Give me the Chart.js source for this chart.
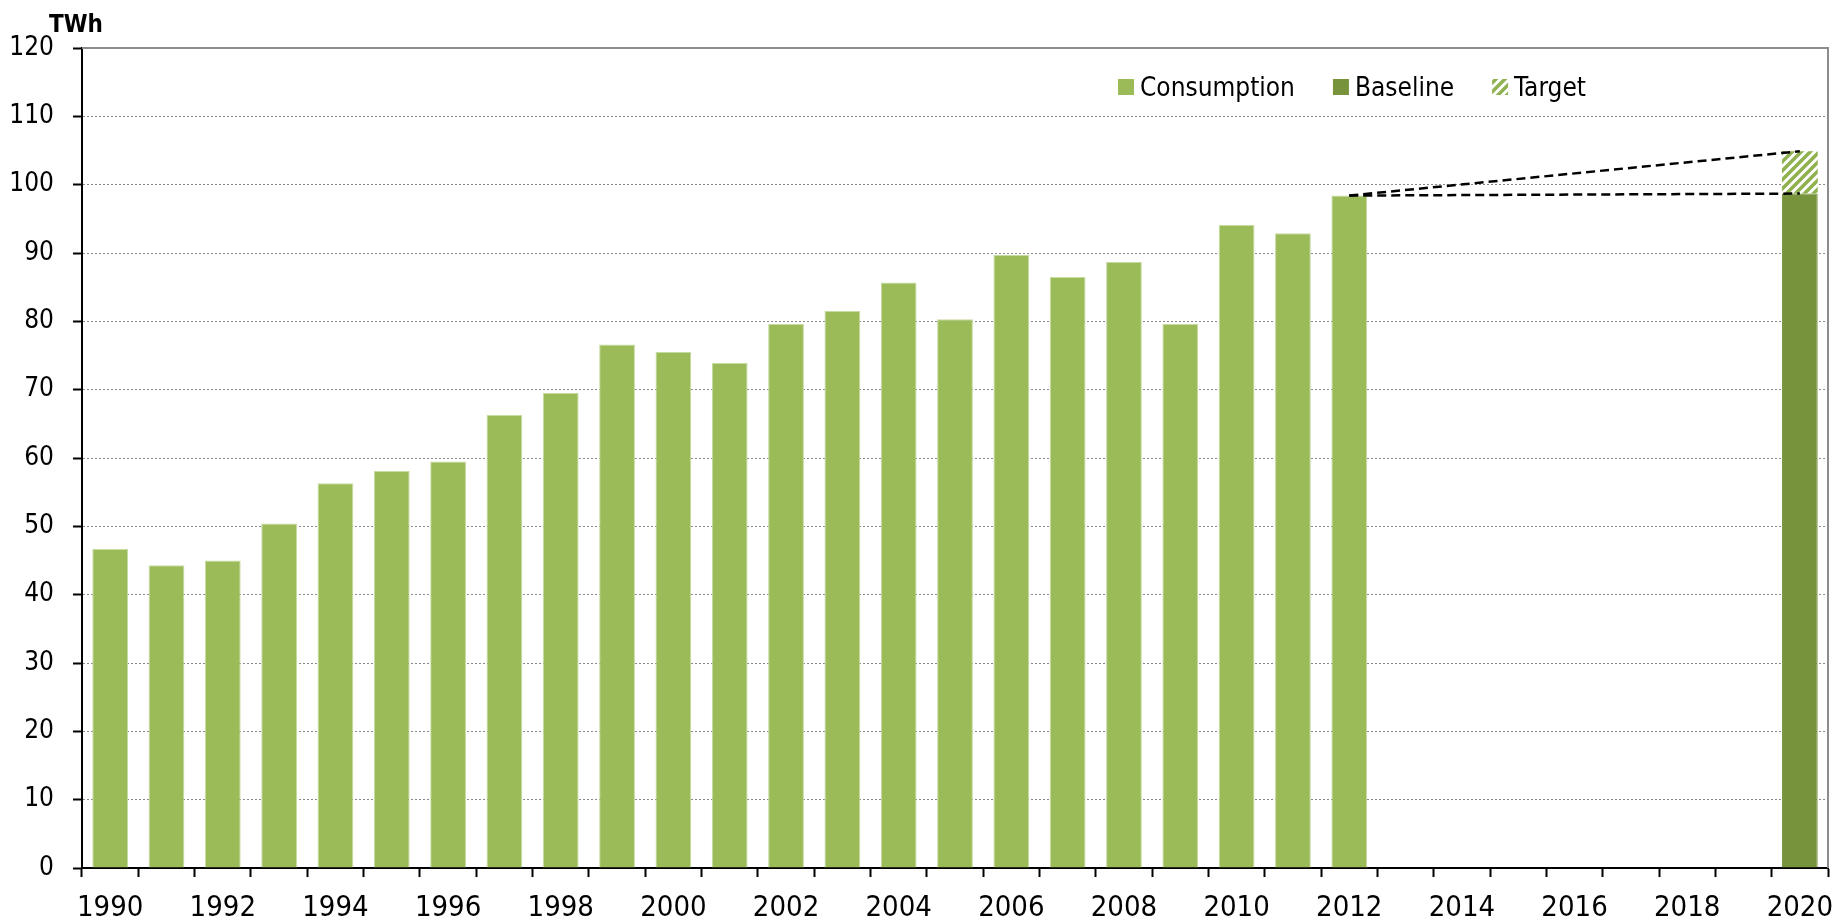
<!DOCTYPE html>
<html>
<head>
<meta charset="utf-8">
<script src="https://cdn.jsdelivr.net/npm/chart.js@4.4.0/dist/chart.umd.min.js"></script>
<style>html,body{margin:0;padding:0;background:#fff}canvas{display:block}</style>
</head>
<body>
<canvas id="chart" width="1833" height="920"></canvas>
<script>
// data
const years=['1990','1991','1992','1993','1994','1995','1996','1997','1998','1999','2000','2001','2002','2003','2004','2005','2006','2007','2008','2009','2010','2011','2012','2013','2014','2015','2016','2017','2018','2019','2020'];
const consumption=[46.7,44.3,45.0,50.4,56.3,58.1,59.5,66.3,69.5,76.6,75.5,73.9,79.6,81.5,85.7,80.3,89.7,86.5,88.7,79.6,94.1,92.9,98.4,null,null,null,null,null,null,null,null];
const baseline2020=98.7;
const target2020=104.9;
const lastYear='2012', goalYear='2020';

const FONT="'DejaVu Sans Condensed','DejaVu Sans',sans-serif";
Chart.defaults.font.family=FONT;
Chart.defaults.font.size=26;
Chart.defaults.color='#000';

const ctx=document.getElementById('chart').getContext('2d');

function hatch(){
  const c=document.createElement('canvas');c.width=c.height=9;
  const g=c.getContext('2d');
  g.fillStyle='#fff';g.fillRect(0,0,9,9);
  g.strokeStyle='#8fb150';g.lineWidth=3.5;
  g.beginPath();
  g.moveTo(-2,11);g.lineTo(11,-2);
  g.moveTo(-7,7);g.lineTo(7,-7);
  g.moveTo(2,16);g.lineTo(16,2);
  g.stroke();
  return ctx.createPattern(c,'repeat');
}

const iLast=years.indexOf(lastYear), iGoal=years.indexOf(goalYear);
const baseline=years.map((y,i)=>i===iGoal?baseline2020:null);
const target=years.map((y,i)=>i===iGoal?[baseline2020,target2020]:null);
const trendUp=years.map((y,i)=>i===iLast?consumption[iLast]:(i===iGoal?target2020:null));
const trendFlat=years.map((y,i)=>i===iLast?consumption[iLast]:(i===iGoal?baseline2020:null));

const barOpts={barPercentage:0.635,categoryPercentage:1,borderWidth:1,borderSkipped:'bottom'};
const lineOpts={type:'line',borderColor:'#000',borderWidth:2.5,borderDash:[9,5],pointRadius:0,spanGaps:true,fill:false,order:-1};

const extras={id:'extras',
  afterDraw(chart){
    const c=chart.ctx, a=chart.chartArea;
    c.save();
    // frame top/right
    c.strokeStyle='#8c8c8c';c.lineWidth=2;
    c.beginPath();c.moveTo(a.left,a.top);c.lineTo(a.right,a.top);c.lineTo(a.right,a.bottom);c.stroke();
    // unit
    c.fillStyle='#000';c.font="bold 24px "+FONT;c.textBaseline='alphabetic';
    c.fillText('TWh',49,32);
    // legend
    c.font="26px "+FONT;
    let x=1118;const y=79;
    chart.data.datasets.filter(d=>d.type!=='line').forEach(d=>{
      c.fillStyle=d.backgroundColor;c.fillRect(x,y,16,16);
      c.fillStyle='#000';c.fillText(d.label,x+22,96);
      x+=22+c.measureText(d.label).width+38;
    });
    c.restore();
  }};

new Chart(ctx,{
  type:'bar',
  data:{labels:years,datasets:[
    {label:'Consumption',data:consumption,backgroundColor:'#9bbb59',borderColor:'#c6dba0',...barOpts},
    {label:'Baseline',data:baseline,backgroundColor:'#77933c',borderColor:'#77933c',...barOpts},
    {label:'Target',data:target,backgroundColor:hatch(),borderColor:'rgba(0,0,0,0)',...barOpts,borderWidth:0},
    {label:'trend up',data:trendUp,...lineOpts},
    {label:'trend flat',data:trendFlat,...lineOpts}
  ]},
  options:{responsive:false,animation:false,
    layout:{padding:{top:48,right:5,left:0,bottom:0}},
    plugins:{legend:{display:false},tooltip:{enabled:false}},
    scales:{
      x:{stacked:true,offset:true,
        grid:{offset:true,drawOnChartArea:false,tickLength:9,tickColor:'#000',tickWidth:2},
        border:{color:'#000',width:2},
        ticks:{autoSkip:false,maxRotation:0,minRotation:0,padding:14,color:'#000',font:{size:29},callback:(v,i)=>i%2===0?years[i]:''},
        afterFit:s=>{s.height=52;s.paddingLeft=0;s.paddingRight=0;}},
      y:{min:0,max:120,
        ticks:{stepSize:10,padding:19,color:'#000'},
        grid:{color:'#8a8a8a',lineWidth:1,tickLength:9,tickColor:'#000',tickWidth:2},
        border:{color:'#000',width:2,dash:c=>c.tick&&c.tick.value===120?[]:[2,2]},
        afterFit:s=>{s.width=82;}}
    }
  },
  plugins:[extras]
});
</script>
</body>
</html>
